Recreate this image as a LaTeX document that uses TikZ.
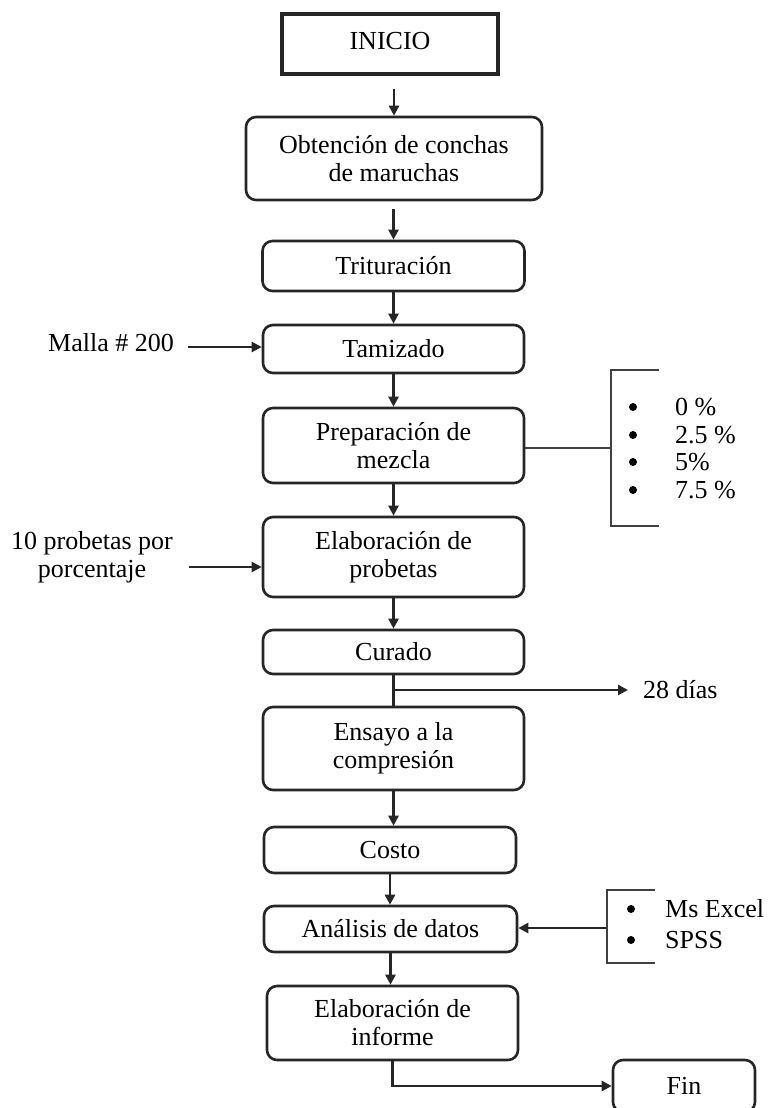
\documentclass[tikz,border=0pt]{standalone}
\usepackage{fontspec}
\setmainfont{Liberation Serif}
\usetikzlibrary{arrows.meta,calc}
\begin{document}
\begin{tikzpicture}[x=1pt,y=-1pt,
  box/.style={draw=black!85,line width=2.6pt,rounded corners=10pt,align=center,inner sep=0pt,font=\fontsize{26}{28}\selectfont},
  arr/.style={line width=2.4pt,draw=black!85,-{Triangle[length=10pt,width=10pt]}},
  ln/.style={line width=2.4pt,draw=black!85},
  brk/.style={line width=2.6pt,draw=black!75},
  txt/.style={font=\fontsize{26}{28}\selectfont,inner sep=0pt,align=center},
  dot/.style={circle,fill=black,inner sep=0pt,minimum size=8pt}]
\useasboundingbox (0,0) rectangle (782,1108);
\clip (0,0) rectangle (782,1108);
% boxes
\node[box,rounded corners=0pt,line width=3.4pt,minimum width=216pt,minimum height=60pt,text depth=6pt] (ini) at (390,44) {INICIO};
\node[box,minimum width=296pt,minimum height=83pt] (obt) at (394,158.5) {Obtención de conchas\\de maruchas};
\node[box,minimum width=262pt,minimum height=50pt] (tri) at (393.5,266) {Trituración};
\node[box,minimum width=261pt,minimum height=48pt] (tam) at (393.5,349) {Tamizado};
\node[box,minimum width=261pt,minimum height=75pt] (pre) at (393.5,445.5) {Preparación de\\mezcla};
\node[box,minimum width=261pt,minimum height=80pt] (ela) at (393.5,557) {Elaboración de\\probetas};
\node[box,minimum width=261pt,minimum height=44pt] (cur) at (393.5,652) {Curado};
\node[box,minimum width=261pt,minimum height=83pt] (ens) at (393.5,748.5) {Ensayo a la\\compresión};
\node[box,minimum width=252pt,minimum height=46pt] (cos) at (390,850) {Costo};
\node[box,minimum width=253pt,minimum height=46pt] (ana) at (390.5,929) {Análisis de datos};
\node[box,minimum width=251pt,minimum height=74pt] (inf) at (392.5,1023) {Elaboración de\\informe};
\node[box,minimum width=142pt,minimum height=52pt] (fin) at (684,1086) {Fin};
% side texts
\node[txt,anchor=east] (mal) at (174,343) {Malla \# 200};
\node[txt] (pro) at (92,557) {10 probetas por\\porcentaje};
\node[txt,anchor=west] (dias) at (643,690) {28 días};
% main flow
\draw[arr] ($(obt.north |- ini.south)+(0,13)$) -- (obt.north);
\draw[arr] ($(tri.north |- obt.south)+(0,8)$) -- (tri.north);
\draw[arr] (tri.south) -- (tam.north);
\draw[arr] (tam.south) -- (pre.north);
\draw[arr] (pre.south) -- (ela.north);
\draw[arr] (ela.south) -- (cur.north);
\draw[ln] (cur.south) -- (ens.north);
\coordinate (c28) at (628,690);
\draw[arr] (cur.south |- c28) -- (c28);
\draw[arr] (ens.south) -- (ens.south |- cos.north);
\draw[arr] (cos.south) -- (cos.south |- ana.north);
\draw[arr] (ana.south) -- (ana.south |- inf.north);
\draw[arr] (inf.south) |- (fin.west);
% left inputs
\draw[arr] ([xshift=14pt,yshift=-4pt]mal.east) -- ([yshift=2pt]tam.west);
\draw[arr] ([xshift=16pt,yshift=-10pt]pro.east) -- ([yshift=-10pt]ela.west);
% bracket 1
\coordinate (b1) at (611,448);
\coordinate (b1t) at (659,370);
\coordinate (b1b) at (659,526);
\draw[brk] (pre.east |- b1) -- (b1);
\draw[brk] (b1t) -- (b1 |- b1t) -- (b1 |- b1b) -- (b1b);
\node[dot] (d1) at (633,407) {};
\node[dot] (d2) at (633,435) {};
\node[dot] (d3) at (633,462) {};
\node[dot] (d4) at (633,490) {};
\node[txt,anchor=west] (t1) at (675,407) {0 \%};
\node[txt,anchor=west] (t2) at (675,435) {2.5 \%};
\node[txt,anchor=west] (t3) at (675,462) {5\%};
\node[txt,anchor=west] (t4) at (675,490) {7.5 \%};
% bracket 2
\coordinate (b2) at (607,928);
\coordinate (b2t) at (655,890);
\coordinate (b2b) at (655,963);
\draw[arr] (b2) -- (ana.east |- b2);
\draw[brk] (b2t) -- (b2 |- b2t) -- (b2 |- b2b) -- (b2b);
\node[dot] (e1) at (631,909) {};
\node[dot] (e2) at (631,940) {};
\node[txt,anchor=west] (s1) at (665,909) {Ms Excel};
\node[txt,anchor=west] (s2) at (665,940) {SPSS};
\end{tikzpicture}
\end{document}
